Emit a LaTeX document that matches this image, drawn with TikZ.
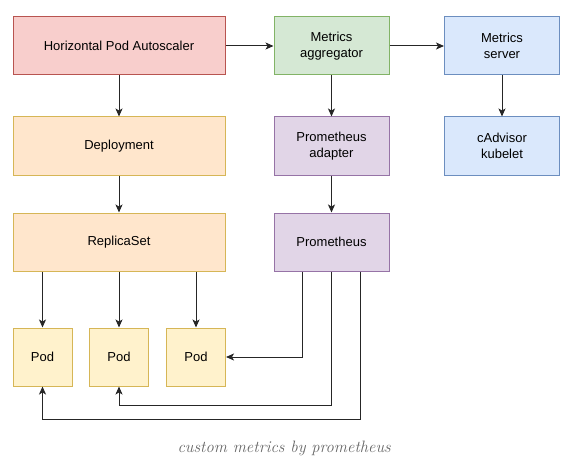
\documentclass[tikz,border=0pt]{standalone}
\usepackage{fontspec}
\setmainfont{Liberation Sans}
\newfontfamily\captionfont{Latin Modern Roman}
\usetikzlibrary{arrows.meta}
\definecolor{redfill}{HTML}{F8CECC}
\definecolor{reddraw}{HTML}{B85450}
\definecolor{greenfill}{HTML}{D5E8D4}
\definecolor{greendraw}{HTML}{82B366}
\definecolor{bluefill}{HTML}{DAE8FC}
\definecolor{bluedraw}{HTML}{6C8EBF}
\definecolor{orangefill}{HTML}{FFE6CC}
\definecolor{yellowfill}{HTML}{FFF2CC}
\definecolor{yellowdraw}{HTML}{D6B656}
\definecolor{purplefill}{HTML}{E1D5E7}
\definecolor{purpledraw}{HTML}{9673A6}
\tikzset{
  box/.style = {draw, line width=1pt, inner sep=0pt, minimum height=58pt,
                align=center, font=\fontsize{13}{15.5}\selectfont},
  wide/.style = {box, minimum width=212pt},
  mid/.style = {box, minimum width=115pt},
  podbox/.style = {box, minimum width=59pt, fill=yellowfill, draw=yellowdraw},
  arr/.style = {-{Stealth[length=8pt,width=7pt,inset=2pt]}, line width=1pt, draw=black!85}
}
\begin{document}
\begin{tikzpicture}[x=1pt, y=-1pt]
    \useasboundingbox (0,0) rectangle (567,468);
    % top row
    \node[wide, fill=redfill, draw=reddraw] (hpa) at (119,46) {Horizontal Pod Autoscaler};
    \node[mid, fill=greenfill, draw=greendraw] (agg) at (331.5,46) {Metrics\\aggregator};
    \node[mid, fill=bluefill, draw=bluedraw] (ms) at (502,46) {Metrics\\server};
    % second row
    \node[wide, fill=orangefill, draw=yellowdraw] (dep) at (119,146) {Deployment};
    \node[mid, fill=purplefill, draw=purpledraw] (pa) at (331.5,146) {Prometheus\\adapter};
    \node[mid, fill=bluefill, draw=bluedraw] (cad) at (502,146) {cAdvisor\\kubelet};
    % third row
    \node[wide, fill=orangefill, draw=yellowdraw] (rs) at (119,242) {ReplicaSet};
    \node[mid, fill=purplefill, draw=purpledraw] (prom) at (331.5,242) {Prometheus};
    % pods
    \node[podbox] (pod1) at (42.5,357) {Pod};
    \node[podbox] (pod2) at (119,357) {Pod};
    \node[podbox] (pod3) at (196,357) {Pod};

    \draw[arr] (hpa) -- (agg);
    \draw[arr] (agg) -- (ms);
    \draw[arr] (hpa) -- (dep);
    \draw[arr] (dep) -- (rs);
    \draw[arr] (agg) -- (pa);
    \draw[arr] (pa) -- (prom);
    \draw[arr] (ms) -- (cad);
    \draw[arr] (pod1.north |- rs.south) -- (pod1.north);
    \draw[arr] (pod2.north |- rs.south) -- (pod2.north);
    \draw[arr] (pod3.north |- rs.south) -- (pod3.north);
    % prometheus scrapes the pods
    \draw[arr] ([xshift=-29pt]prom.south) |- (pod3.east);
    \draw[arr] (prom.south) |- ([yshift=-19pt]pod2.south) -- (pod2.south);
    \draw[arr] ([xshift=29pt]prom.south) |- ([yshift=-33pt]pod1.south) -- (pod1.south);

    \node[anchor=base east, inner sep=0pt, text=black!60, font=\captionfont\itshape\fontsize{16.5}{19}\selectfont] (caption) at (391,452) {custom metrics by prometheus};
\end{tikzpicture}
\end{document}
